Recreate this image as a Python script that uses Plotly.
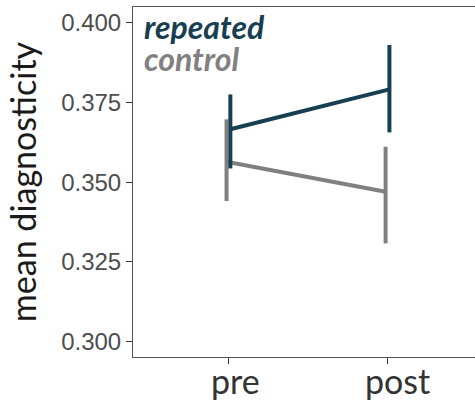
import plotly.graph_objects as go

# data
phases = ["pre", "post"]
groups = ["repeated", "control"]
means = {"repeated": [0.3666, 0.3791], "control": [0.3564, 0.3470]}
err_hi = {"repeated": [0.3775, 0.3930], "control": [0.3697, 0.3611]}
err_lo = {"repeated": [0.3543, 0.3656], "control": [0.3441, 0.3308]}
y_ticks = [0.300, 0.325, 0.350, 0.375, 0.400]

colors = {"repeated": "#173f51", "control": "#808080"}
dodge = {"repeated": 0.012, "control": -0.012}

fig = go.Figure()
for g in ["control", "repeated"]:
    xs = [i + 1 + dodge[g] for i in range(len(phases))]
    fig.add_trace(go.Scatter(
        x=xs, y=means[g], mode="lines",
        line=dict(color=colors[g], width=4),
        error_y=dict(
            type="data", symmetric=False,
            array=[h - m for h, m in zip(err_hi[g], means[g])],
            arrayminus=[m - l for m, l in zip(means[g], err_lo[g])],
            color=colors[g], thickness=4, width=0,
        ),
        showlegend=False,
    ))

fig.update_layout(
    width=475, height=402,
    margin=dict(l=133, r=0, t=7, b=45, autoexpand=False),
    plot_bgcolor="white", paper_bgcolor="white",
    xaxis=dict(
        range=[0.4, 2.55], tickvals=[1, 2], showticklabels=False,
        showline=True, mirror=True, linecolor="#555555", linewidth=1,
        ticks="outside", ticklen=6, tickcolor="#333333",
        showgrid=False, zeroline=False, automargin=False,
    ),
    yaxis=dict(
        range=[0.2952, 0.4049], tickvals=y_ticks,
        ticktext=[f"{v:.3f}" for v in y_ticks],
        showline=True, mirror=False, linecolor="#555555", linewidth=1,
        ticks="outside", ticklen=6, tickcolor="#333333",
        showgrid=False, zeroline=False, automargin=False,
        tickfont=dict(family="Liberation Sans", size=24, color="#4d4d4d"),
        title=dict(text="mean diagnosticity", standoff=14,
                   font=dict(family="Lato", size=34, color="#1a1a1a")),
    ),
)

# category labels under the x axis (ref has them nudged right of the ticks)
label_shift = [7, 10]
for i, p in enumerate(phases):
    fig.add_annotation(
        x=i + 1, y=0, xref="x", yref="paper",
        xanchor="center", yanchor="top", showarrow=False,
        xshift=label_shift[i], yshift=-1,
        text=p, font=dict(family="Lato", size=34, color="#333333"),
    )

for i, g in enumerate(groups):
    fig.add_annotation(
        x=0.025, y=1.005 - i * 0.09, xref="paper", yref="paper",
        xanchor="left", yanchor="top", showarrow=False,
        text=f"<b><i>{g}</i></b>",
        font=dict(family="Lato", size=32, color=colors[g]),
    )

fig.write_html("out.html", config={"displayModeBar": False},
               post_script="document.body.style.margin='0';")
